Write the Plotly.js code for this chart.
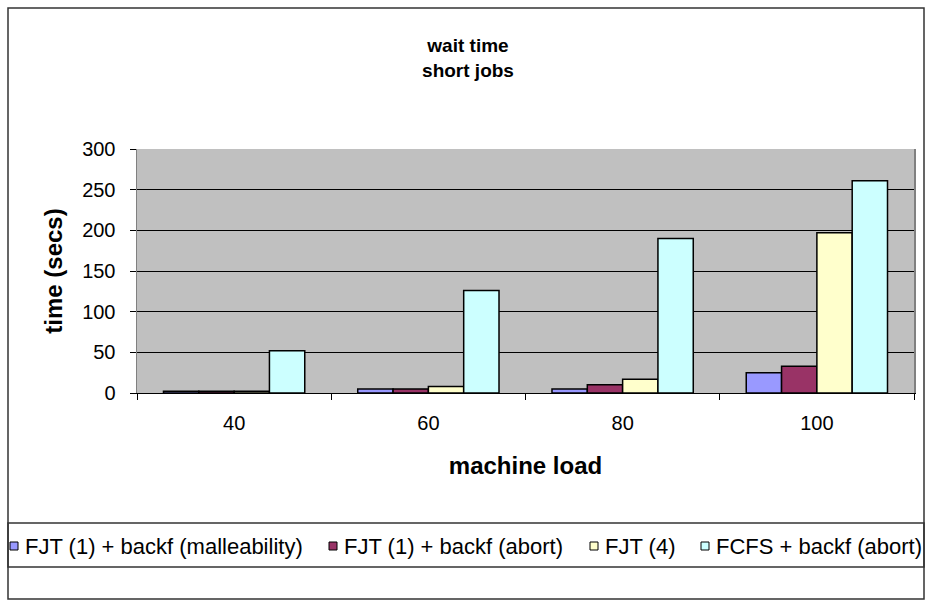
<!DOCTYPE html>
<html>
<head>
<meta charset="utf-8">
<script src="https://cdn.plot.ly/plotly-3.0.1.min.js"></script>
<style>
  html, body { margin: 0; padding: 0; background: #ffffff; }
  #chart { width: 930px; height: 601px; }
</style>
</head>
<body>
<div id="chart"></div>
<script>
// ---- data ----
const machineLoad = ['40', '60', '80', '100'];
const seriesNames = [
  'FJT (1) + backf (malleability)',
  'FJT (1) + backf (abort)',
  'FJT (4)',
  'FCFS + backf (abort)'
];
const fjt1Malleability = [2, 5, 5, 25];
const fjt1Abort        = [2, 5, 10, 33];
const fjt4             = [2, 8, 17, 197];
const fcfsAbort        = [52, 126, 190, 261];
const yTickValues = [0, 50, 100, 150, 200, 250, 300];

const seriesValues = [fjt1Malleability, fjt1Abort, fjt4, fcfsAbort];
const seriesColors = ['#9999FF', '#993366', '#FFFFCC', '#CCFFFF'];

const W = 930, H = 601;
const M = { l: 137, r: 16, t: 149, b: 208 };
const pw = W - M.l - M.r, ph = H - M.t - M.b;
const px = x => (x - M.l) / pw;
const py = y => 1 - (y - M.t) / ph;

const traces = seriesValues.map((vals, i) => ({
  type: 'bar',
  name: seriesNames[i],
  x: machineLoad,
  y: vals,
  marker: { color: seriesColors[i], line: { color: '#000000', width: 1.5 } },
  hoverinfo: 'x+y+name',
  showlegend: false
}));

const font = 'Liberation Sans, Arial, sans-serif';

// hand-placed legend row (Excel style: small square, text right next to it)
const legendTextX = [23, 342, 603, 714];
const legendY = 546;
const legendShapes = [];
const legendAnnots = [];
seriesNames.forEach((name, i) => {
  const x0 = legendTextX[i] - 13;
  legendShapes.push({
    type: 'rect', xref: 'paper', yref: 'paper',
    x0: px(x0), x1: px(x0 + 8), y0: py(legendY + 4), y1: py(legendY - 4),
    line: { color: '#000000', width: 1 }, fillcolor: seriesColors[i]
  });
  legendAnnots.push({
    xref: 'paper', yref: 'paper',
    x: px(legendTextX[i]), y: py(legendY),
    xanchor: 'left', yanchor: 'middle',
    text: name, showarrow: false,
    font: { family: font, size: 22, color: '#000000' }
  });
});

const layout = {
  width: W, height: H,
  margin: M,
  paper_bgcolor: '#ffffff',
  plot_bgcolor: '#C0C0C0',
  barmode: 'group',
  bargap: 1.5 / 5.5,
  bargroupgap: 0,
  font: { family: font, color: '#000000', size: 20 },
  title: {
    text: '<b>wait time<br>short jobs</b>',
    font: { family: font, size: 19, color: '#000000' },
    x: 468 / W, xref: 'container', xanchor: 'center',
    y: 1 - 52 / H, yref: 'container', yanchor: 'middle'
  },
  xaxis: {
    type: 'category',
    tickson: 'boundaries',
    ticks: 'outside', ticklen: 6, tickcolor: '#000000', tickwidth: 1,
    ticklabelstandoff: 12,
    showline: true, linecolor: '#000000', linewidth: 1,
    showgrid: false,
    tickfont: { family: font, size: 20 },
    title: { text: '<b>machine load</b>', font: { family: font, size: 24 }, standoff: 24 },
    automargin: false, fixedrange: true
  },
  yaxis: {
    range: [0, 300],
    tickvals: yTickValues,
    ticks: 'outside', ticklen: 6, tickcolor: '#000000', tickwidth: 1,
    ticklabelstandoff: 10,
    showline: true, linecolor: '#808080', linewidth: 1.5, mirror: true,
    showgrid: true, gridcolor: '#000000', gridwidth: 1,
    zeroline: false,
    tickfont: { family: font, size: 20 },
    title: { text: '<b>time (secs)</b>', font: { family: font, size: 24 }, standoff: 12 },
    automargin: false, fixedrange: true
  },
  showlegend: false,
  annotations: legendAnnots,
  shapes: [
    { type: 'rect', xref: 'paper', yref: 'paper',
      x0: px(8), x1: px(924), y0: py(599), y1: py(8),
      line: { color: '#333333', width: 1.5 }, fillcolor: 'rgba(0,0,0,0)', layer: 'below' },
    { type: 'rect', xref: 'paper', yref: 'paper',
      x0: px(8), x1: px(924), y0: py(567), y1: py(523),
      line: { color: '#333333', width: 1.5 }, fillcolor: 'rgba(0,0,0,0)', layer: 'below' }
  ].concat(legendShapes)
};

Plotly.newPlot('chart', traces, layout, { displayModeBar: false, staticPlot: true });
</script>
</body>
</html>
